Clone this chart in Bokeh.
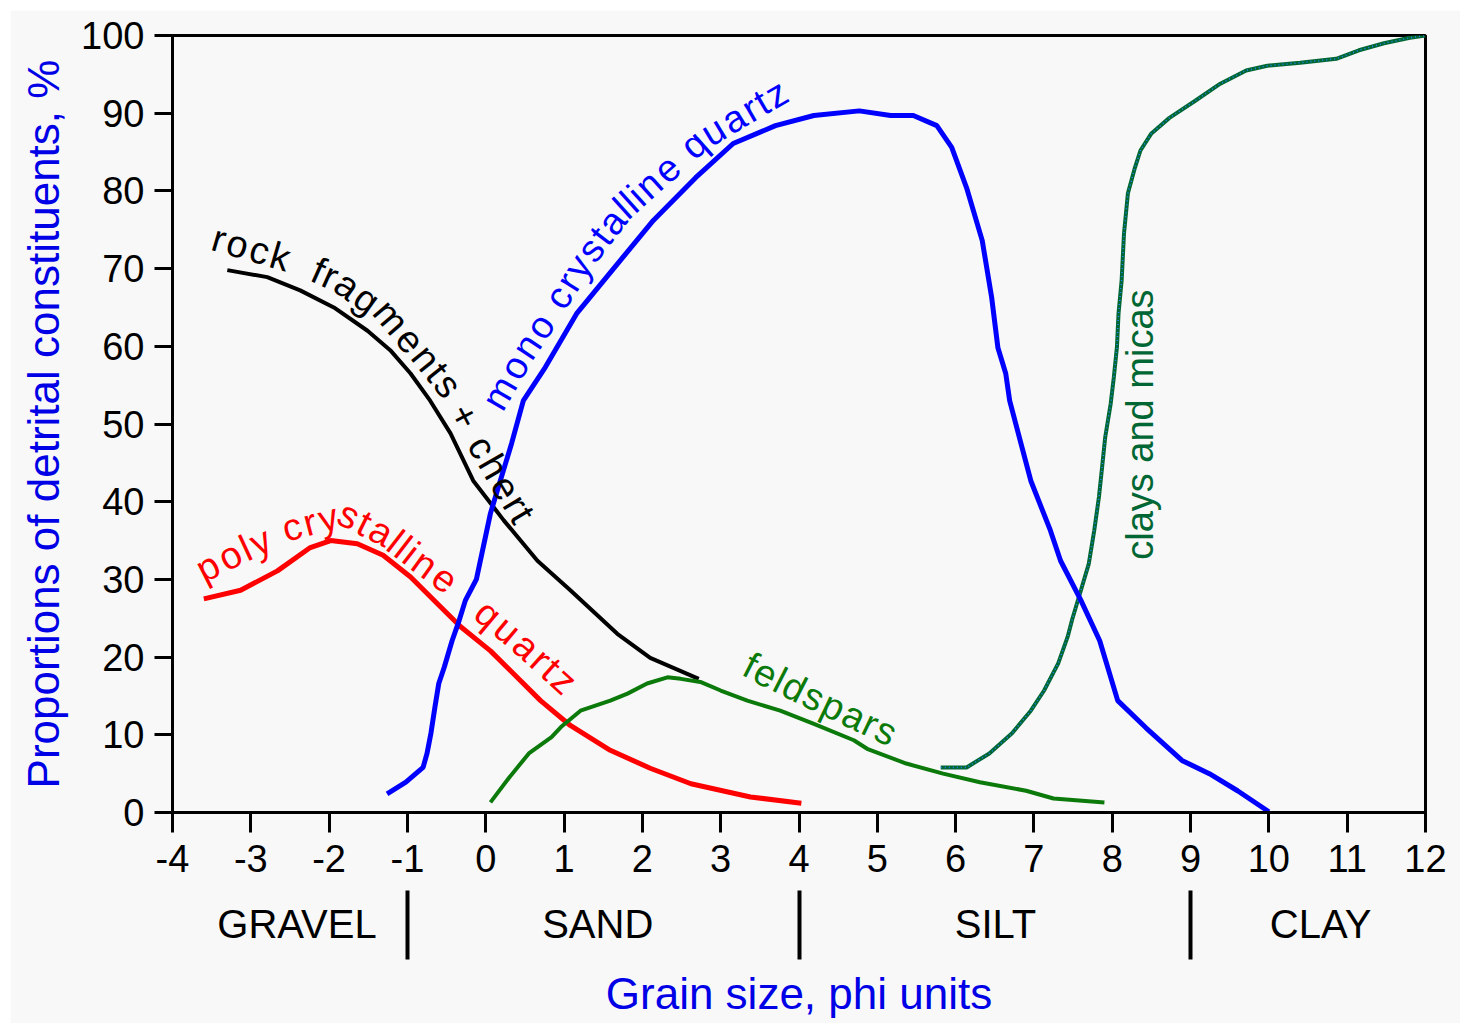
import math
from bokeh.plotting import figure
from bokeh.models import Range1d, FixedTicker, LinearAxis
from bokeh.core.properties import value
from bokeh.embed import file_html
from bokeh.resources import INLINE

# ---------------- data ----------------
x_ticks = list(range(-4, 13))
x_tick_labels = [str(t) for t in x_ticks]
y_ticks = list(range(0, 101, 10))
y_tick_labels = [str(t) for t in y_ticks]

class_names = ["GRAVEL", "SAND", "SILT", "CLAY"]
class_centers = [-2.41, 1.43, 6.51, 10.66]
class_bounds = [-1, 4, 9]

mono_x = [-1.26, -1.02, -0.80, -0.75, -0.70, -0.65, -0.60, -0.53, -0.43, -0.34, -0.26,
          -0.12, 0.06, 0.33, 0.48, 0.76, 1.16, 1.64, 2.14, 2.68, 3.16, 3.70, 4.19,
          4.77, 5.17, 5.46, 5.76, 5.95, 6.14, 6.34, 6.46, 6.54, 6.64, 6.69, 6.96,
          7.21, 7.34, 7.60, 7.84, 8.07, 8.43, 8.89, 9.24, 9.60, 10.0]
mono_y = [2.4, 3.9, 5.8, 7.6, 10.2, 13.5, 16.6, 18.7, 22.1, 24.7, 27.3,
          30.0, 38.5, 47.5, 53.0, 57.3, 64.2, 70.1, 76.2, 81.7, 86.1, 88.4, 89.7,
          90.3, 89.7, 89.7, 88.4, 85.6, 80.4, 73.6, 66.3, 59.8, 56.5, 53.0, 42.7,
          36.3, 32.4, 27.3, 22.1, 14.4, 10.9, 6.7, 5.0, 2.8, 0.1]

poly_x = [-3.60, -3.13, -2.66, -2.24, -1.98, -1.64, -1.31, -0.96, -0.62, -0.32, 0.06,
          0.40, 0.70, 1.08, 1.59, 2.10, 2.62, 3.38, 4.03]
poly_y = [27.5, 28.6, 31.1, 34.1, 35.0, 34.6, 33.1, 30.3, 26.9, 23.9, 20.8,
          17.4, 14.4, 11.2, 8.0, 5.7, 3.7, 2.0, 1.2]

rock_x = [-3.30, -2.79, -2.37, -1.94, -1.51, -1.22, -0.96, -0.71, -0.45, -0.16, 0.23,
          0.66, 1.08, 1.68, 2.10, 2.72]
rock_y = [69.8, 68.9, 67.2, 65.0, 62.0, 59.5, 56.5, 53.0, 48.8, 42.7, 37.6,
          32.4, 28.6, 23.0, 19.9, 17.2]

feld_x = [0.06, 0.30, 0.55, 0.84, 0.96, 1.21, 1.59, 1.81, 2.06, 2.32, 2.49, 2.74,
          3.00, 3.34, 3.76, 4.19, 4.70, 4.87, 5.37, 5.84, 6.31, 6.90, 7.25, 7.90]
feld_y = [1.3, 4.5, 7.6, 9.7, 11.0, 13.1, 14.4, 15.3, 16.6, 17.4, 17.2, 16.8,
          15.7, 14.4, 13.1, 11.4, 9.3, 8.2, 6.3, 5.0, 3.9, 2.8, 1.8, 1.3]

clay_x = [5.81, 6.14, 6.43, 6.72, 6.96, 7.13, 7.31, 7.43, 7.49, 7.60, 7.70, 7.77,
          7.83, 7.87, 7.91, 7.98, 8.02, 8.06, 8.08, 8.12, 8.15, 8.20, 8.29, 8.36,
          8.50, 8.73, 9.06, 9.38, 9.71, 9.98, 10.40, 10.86, 11.15, 11.47, 11.80, 12.0]
clay_y = [5.8, 5.8, 7.6, 10.2, 13.1, 15.7, 19.2, 22.6, 24.9, 28.6, 32.0, 36.3,
          40.6, 44.4, 48.3, 52.6, 56.0, 59.9, 64.2, 68.5, 74.5, 79.7, 83.0, 85.2,
          87.4, 89.4, 91.6, 93.8, 95.5, 96.1, 96.5, 97.0, 98.1, 99.0, 99.7, 100.0]

# ---------------- figure ----------------
W_CANVAS, H_CANVAS = 1450, 1013
MB_L, MB_R, MB_T, MB_B = 162, 35, 25, 211
X0, X1, Y0, Y1 = -4, 12, 0, 100
SX = (W_CANVAS - MB_L - MB_R) / (X1 - X0)
SY = (H_CANVAS - MB_T - MB_B) / (Y1 - Y0)

BG = "#f8f8f8"
FONT = "Liberation Sans"
LABEL_BLUE = "#0000e6"

p = figure(width=W_CANVAS, height=H_CANVAS, x_range=Range1d(X0, X1), y_range=Range1d(Y0, Y1),
           output_backend="svg", toolbar_location=None,
           min_border_left=MB_L, min_border_right=MB_R, min_border_top=MB_T, min_border_bottom=MB_B,
           background_fill_color=BG, border_fill_color=BG,
           outline_line_color="black", outline_line_width=3)
p.margin = (10, 0, 0, 10)
p.grid.visible = False

# main x axis
xa = p.xaxis[0]
xa.ticker = FixedTicker(ticks=x_ticks, minor_ticks=[])
xa.major_label_overrides = {t: l for t, l in zip(x_ticks, x_tick_labels)}
xa.axis_line_width = 3
xa.major_tick_line_width = 3
xa.major_tick_in = 0
xa.major_tick_out = 20
xa.major_label_standoff = 12
xa.major_label_text_font = FONT
xa.major_label_text_font_size = "38px"
xa.major_label_text_color = "black"

# y axis
ya = p.yaxis[0]
ya.ticker = FixedTicker(ticks=y_ticks, minor_ticks=[])
ya.major_label_overrides = {t: l for t, l in zip(y_ticks, y_tick_labels)}
ya.axis_line_width = 3
ya.major_tick_line_width = 3
ya.major_tick_in = 0
ya.major_tick_out = 18
ya.major_label_standoff = 10
ya.major_label_text_font = FONT
ya.major_label_text_font_size = "38px"
ya.major_label_text_color = "black"
ya.axis_label = "Proportions of detrital constituents, %"
ya.axis_label_text_font = FONT
ya.axis_label_text_font_size = "44px"
ya.axis_label_text_font_style = "normal"
ya.axis_label_text_color = LABEL_BLUE
ya.axis_label_standoff = 10

# class axis (GRAVEL / SAND / SILT / CLAY with separators)
ca = LinearAxis(ticker=FixedTicker(ticks=class_centers, minor_ticks=class_bounds))
ca.major_label_overrides = {c: n for c, n in zip(class_centers, class_names)}
ca.axis_line_color = None
ca.major_tick_line_color = None
ca.major_tick_in = 0
ca.major_tick_out = 0
ca.minor_tick_line_color = "black"
ca.minor_tick_line_width = 4
ca.minor_tick_in = -16
ca.minor_tick_out = 85
ca.major_label_standoff = -58
ca.major_label_text_font = FONT
ca.major_label_text_font_size = "40px"
ca.major_label_text_color = "black"
ca.axis_label = "Grain size, phi units"
ca.axis_label_text_font = FONT
ca.axis_label_text_font_size = "44px"
ca.axis_label_text_font_style = "normal"
ca.axis_label_text_color = LABEL_BLUE
ca.axis_label_standoff = 20
p.add_layout(ca, "below")

# ---------------- curves ----------------
p.line(rock_x, rock_y, line_color="black", line_width=4)
p.line(poly_x, poly_y, line_color="#ff0000", line_width=5)
p.line(feld_x, feld_y, line_color="#0b7a0b", line_width=4)
p.line(clay_x, clay_y, line_color="#006633", line_width=4)
p.line(clay_x, clay_y, line_color="#1a8cff", line_width=1.5, line_dash="1 3")
p.line(mono_x, mono_y, line_color="#0000ff", line_width=5)

# ---------------- curved labels ----------------
CW = {'a': .556, 'b': .556, 'c': .5, 'd': .556, 'e': .556, 'f': .278, 'g': .556, 'h': .556,
      'i': .222, 'j': .222, 'k': .5, 'l': .222, 'm': .833, 'n': .556, 'o': .556, 'p': .556,
      'q': .556, 'r': .333, 's': .5, 't': .278, 'u': .556, 'v': .5, 'w': .722, 'x': .5,
      'y': .5, 'z': .5, ' ': .278, '+': .584}


def text_on_path(s, path_x, path_y, color, size):
    px = [(x - X0) * SX for x in path_x]
    py = [(y - Y0) * SY for y in path_y]
    seg = [math.hypot(px[i + 1] - px[i], py[i + 1] - py[i]) for i in range(len(px) - 1)]
    L = sum(seg)
    adv = [CW.get(c, 0.55) for c in s]
    tot = sum(adv)
    xs, ys, angs, chars = [], [], [], []
    acc = 0.0
    for c, a in zip(s, adv):
        d = (acc + a / 2) / tot * L
        acc += a
        if c == " ":
            continue
        i = 0
        while i < len(seg) - 1 and d > seg[i]:
            d -= seg[i]
            i += 1
        t = d / seg[i]
        x = px[i] + t * (px[i + 1] - px[i])
        y = py[i] + t * (py[i + 1] - py[i])
        ang = math.atan2(py[i + 1] - py[i], px[i + 1] - px[i])
        xs.append(x / SX + X0)
        ys.append(y / SY + Y0)
        angs.append(ang)
        chars.append(c)
    p.text(x=xs, y=ys, text=chars, angle=angs, text_color=color,
           text_font=value(FONT), text_font_size=f"{size}px",
           text_align="center", text_baseline="middle")


text_on_path("rock  fragments + chert",
             [-3.49, -2.37, -1.86, -1.22, -0.77, -0.45, -0.20, 0.13, 0.51],
             [74.1, 70.8, 68.5, 63.9, 58.6, 54.6, 49.8, 44.0, 37.6], "black", 38)
text_on_path("mono crystalline quartz",
             [0.06, 0.47, 0.76, 1.21, 1.72, 2.28, 2.74, 3.25, 3.83],
             [52.0, 59.2, 63.6, 70.8, 77.5, 82.6, 86.7, 89.8, 93.2], "#0000ff", 38)
text_on_path("poly crystalline",
             [-3.69, -3.26, -2.49, -1.79, -1.28, -0.83, -0.39],
             [30.9, 33.1, 36.7, 38.5, 35.9, 32.4, 29.2], "#ff0000", 38)
text_on_path("quartz", [-0.09, 0.44, 1.11], [26.6, 22.1, 16.0], "#ff0000", 38)
text_on_path("feldspars", [3.32, 4.02, 5.23], [19.3, 15.7, 9.9], "#0b7a0b", 38)

p.text(x=[8.36], y=[50.6], text=["clays  and micas"], angle=[math.pi / 2],
       text_color="#006633", text_font=value(FONT), text_font_size="38px",
       text_align="center", text_baseline="middle")

open("out.html", "w").write(file_html(p, INLINE))
